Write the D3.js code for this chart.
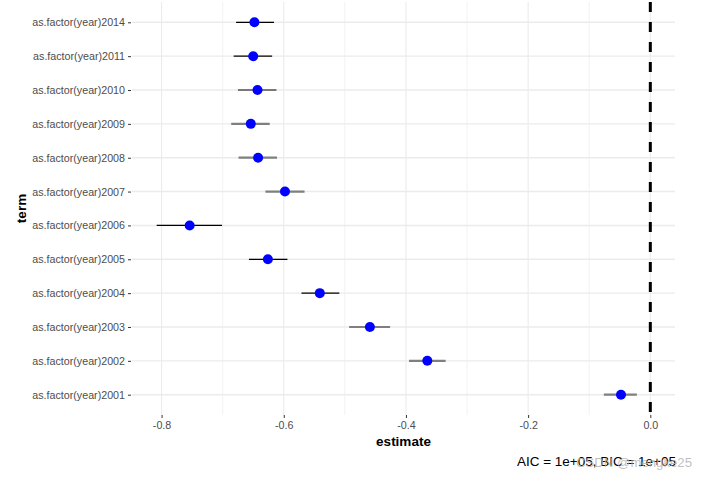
<!DOCTYPE html>
<html>
<head>
<meta charset="utf-8">
<script src="https://cdn.jsdelivr.net/npm/d3@7"></script>
<style>
  body { margin: 0; background: #fff; }
  text { font-family: "Liberation Sans", Arial, sans-serif; }
</style>
</head>
<body>
<div id="chart"></div>
<script>
// Set dimensions
const width = 707;
const height = 479;

// Data (top to bottom as drawn)
const terms = ["as.factor(year)2014", "as.factor(year)2011", "as.factor(year)2010",
  "as.factor(year)2009", "as.factor(year)2008", "as.factor(year)2007",
  "as.factor(year)2006", "as.factor(year)2005", "as.factor(year)2004",
  "as.factor(year)2003", "as.factor(year)2002", "as.factor(year)2001"];
const estimates = [-0.648, -0.650, -0.643, -0.654, -0.642, -0.598,
  -0.754, -0.626, -0.541, -0.459, -0.365, -0.048];
const lower = [-0.678, -0.682, -0.675, -0.686, -0.674, -0.630,
  -0.808, -0.657, -0.571, -0.493, -0.395, -0.076];
const upper = [-0.616, -0.619, -0.612, -0.623, -0.611, -0.566,
  -0.701, -0.594, -0.509, -0.426, -0.335, -0.022];
const ciGroup = ["a", "a", "a", "b", "b", "b", "a", "a", "a", "b", "b", "b"];
const xTicks = [-0.8, -0.6, -0.4, -0.2, 0.0];
const xMinor = [-0.7, -0.5, -0.3, -0.1];
const caption = "AIC = 1e+05, BIC = 1e+05";

const ciColor = { a: "#000000", b: "#7f7f7f" };
const ciWidth = { a: 1.2, b: 2.2 };

const data = terms.map((t, i) => ({
  term: t, est: estimates[i], lo: lower[i], hi: upper[i], g: ciGroup[i]
}));

// Panel
const panel = { left: 132, right: 675, top: 2, bottom: 415 };

const svg = d3.select("#chart")
  .append("svg")
  .attr("width", width)
  .attr("height", height);

svg.append("rect").attr("width", width).attr("height", height).attr("fill", "#fff");

// Scales (ggplot-like 5% expansion, vline at 0 included)
const lo = d3.min(lower), hi = Math.max(d3.max(upper), 0);
const pad = (hi - lo) * 0.05;
const x = d3.scaleLinear()
  .domain([lo - pad, hi + pad])
  .range([panel.left, panel.right]);

const y = d3.scalePoint()
  .domain(terms)
  .range([panel.top, panel.bottom])
  .padding(0.6);

// Grid lines
const grid = svg.append("g");
grid.selectAll("line.minor")
  .data(xMinor)
  .enter().append("line")
  .attr("x1", d => x(d)).attr("x2", d => x(d))
  .attr("y1", panel.top).attr("y2", panel.bottom)
  .attr("stroke", "#efefef").attr("stroke-width", 0.8);
grid.selectAll("line.vmajor")
  .data(xTicks)
  .enter().append("line")
  .attr("x1", d => x(d)).attr("x2", d => x(d))
  .attr("y1", panel.top).attr("y2", panel.bottom)
  .attr("stroke", "#ebebeb").attr("stroke-width", 1.1);
grid.selectAll("line.hmajor")
  .data(terms)
  .enter().append("line")
  .attr("x1", panel.left).attr("x2", panel.right)
  .attr("y1", d => y(d)).attr("y2", d => y(d))
  .attr("stroke", "#ebebeb").attr("stroke-width", 1.4);

// Reference line at zero
svg.append("line")
  .attr("x1", x(0)).attr("x2", x(0))
  .attr("y1", panel.top).attr("y2", panel.bottom)
  .attr("stroke", "#000")
  .attr("stroke-width", 3)
  .attr("stroke-dasharray", "10,10");

// Error bars
svg.selectAll("line.ci")
  .data(data)
  .enter().append("line")
  .attr("x1", d => x(d.lo)).attr("x2", d => x(d.hi))
  .attr("y1", d => y(d.term)).attr("y2", d => y(d.term))
  .attr("stroke", d => ciColor[d.g])
  .attr("stroke-width", d => ciWidth[d.g]);

// Points
svg.selectAll("circle")
  .data(data)
  .enter().append("circle")
  .attr("cx", d => x(d.est))
  .attr("cy", d => y(d.term))
  .attr("r", 5)
  .attr("fill", "#0000ff");

// Axes
const xAxis = svg.append("g")
  .attr("transform", `translate(0,${panel.bottom})`)
  .call(d3.axisBottom(x).tickValues(xTicks).tickFormat(d3.format(".1f")).tickSize(3).tickPadding(3));
const yAxis = svg.append("g")
  .attr("transform", `translate(${panel.left - 1},0)`)
  .call(d3.axisLeft(y).tickSize(3).tickPadding(3));

[xAxis, yAxis].forEach(ax => {
  ax.select(".domain").remove();
  ax.selectAll(".tick line").attr("stroke", "#333").attr("stroke-width", 1);
  ax.selectAll(".tick text")
    .attr("fill", "#4d4d4d")
    .style("font-size", "10.7px")
    .style("font-family", "'Liberation Sans', Arial, sans-serif");
});
xAxis.selectAll(".tick text").text(d => d3.format(".1f")(d).replace("−", "-"));

// Axis titles
svg.append("text")
  .attr("x", (panel.left + panel.right) / 2)
  .attr("y", 446)
  .attr("text-anchor", "middle")
  .style("font-size", "13.5px")
  .style("font-weight", "bold")
  .text("estimate");

svg.append("text")
  .attr("transform", `translate(26,${(panel.top + panel.bottom) / 2}) rotate(-90)`)
  .attr("text-anchor", "middle")
  .style("font-size", "13.5px")
  .style("font-weight", "bold")
  .text("term");

// Caption
svg.append("text")
  .attr("x", panel.right + 1)
  .attr("y", 466)
  .attr("text-anchor", "end")
  .style("font-size", "13.5px")
  .attr("fill", "#000")
  .text(caption);

// Watermark (overlaps the caption, as in the original image)
svg.append("text")
  .attr("x", 576)
  .attr("y", 467)
  .style("font-size", "13.2px")
  .attr("fill", "#b4b4b4")
  .attr("fill-opacity", 0.85)
  .text("CSDN @mengke25");
</script>
</body>
</html>
